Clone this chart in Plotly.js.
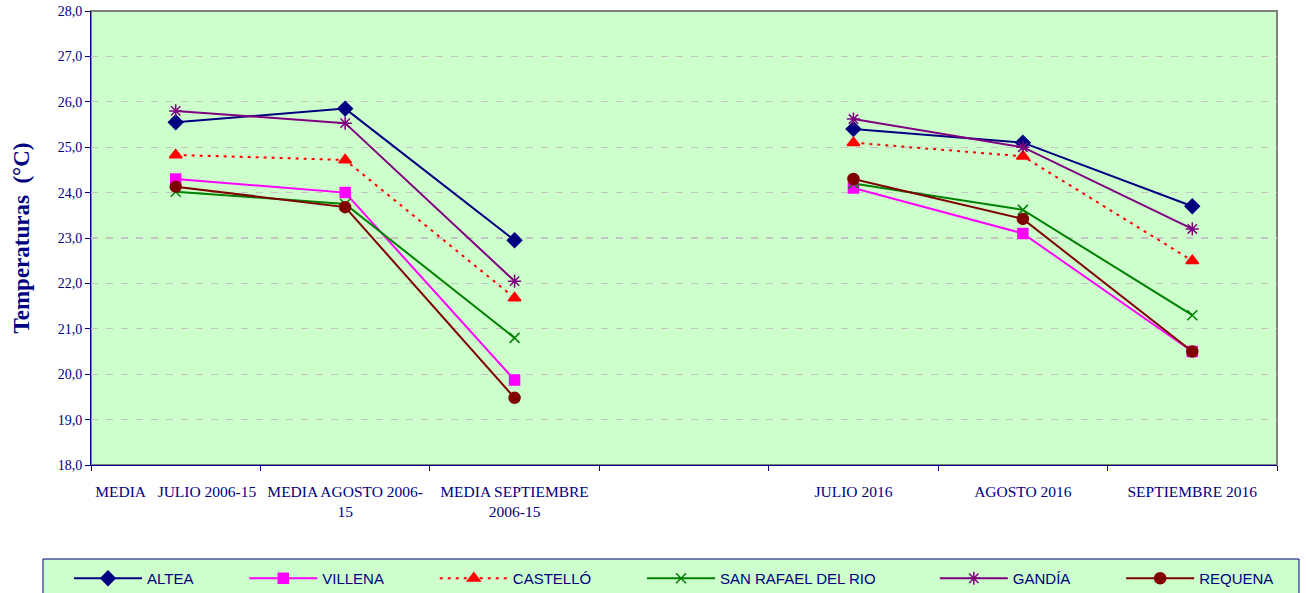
<!DOCTYPE html>
<html><head><meta charset="utf-8">
<script src="https://cdn.plot.ly/plotly-3.0.1.min.js"></script>
<style>html,body{margin:0;padding:0;background:#fff}#chart{width:1306px;height:593px}</style>
</head><body><div id="chart"></div>
<script>
const categories = ["MEDIA\u00a0\u00a0\u00a0JULIO 2006-15", "MEDIA AGOSTO 2006-<br>15", "MEDIA SEPTIEMBRE<br>2006-15", " ", "JULIO 2016", "AGOSTO 2016", "SEPTIEMBRE 2016"];
const seriesNames = ["ALTEA", "VILLENA", "CASTELLÓ", "SAN RAFAEL DEL RIO", "GANDÍA", "REQUENA"];
const altea     = [25.55, 25.85, 22.95, null, 25.4, 25.1, 23.7];
const villena   = [24.3, 24.0, 19.87, null, 24.1, 23.1, 20.5];
const castello  = [24.83, 24.72, 21.68, null, 25.1, 24.8, 22.5];
const sanRafael = [24.02, 23.75, 20.8, null, 24.2, 23.62, 21.3];
const gandia    = [25.8, 25.53, 22.05, null, 25.62, 25.0, 23.2];
const requena   = [24.13, 23.68, 19.48, null, 24.3, 23.42, 20.5];

const navy = "#000080";
// legend spacing (trailing non-breaking spaces to widen each legend entry)
const legendPad = [11, 11, 11, 13, 11, 0];
function tr(i, y, color, symbol, dash, msize) {
  return {type: "scatter", mode: "lines+markers", name: seriesNames[i] + "\u00a0".repeat(legendPad[i]),
    x: categories, y: y, connectgaps: false,
    line: {color: color, width: 2, dash: dash || "solid"},
    marker: {symbol: symbol, size: msize || 10, color: color, line: {color: color, width: 1.5}}};
}
const data = [
  tr(0, altea, navy, "diamond", null, 11),
  tr(1, villena, "#ff00ff", "square", null, 10),
  tr(2, castello, "#ff0000", "triangle-up", "3px,5px", 11),
  tr(3, sanRafael, "#008000", "x-thin", null, 10),
  tr(4, gandia, "#800080", "asterisk", null, 11),
  tr(5, requena, "#800000", "circle", null, 11)
];
const L = 91, R = 1277, T = 11, B = 465;
const W = R - L, H = B - T;
const px = v => (v - L) / W, py = v => (B - v) / H;
const layout = {
  width: 1306, height: 593,
  margin: {l: L, r: 1306 - R, t: T, b: 593 - B, autoexpand: false},
  paper_bgcolor: "#ffffff", plot_bgcolor: "#ccffcc",
  separators: ",.",
  showlegend: true,
  font: {family: "Liberation Serif, serif", color: navy},
  xaxis: {type: "category", categoryorder: "array", categoryarray: categories,
    range: [-0.5, 6.5], autorange: false,
    tickson: "boundaries", ticks: "outside", ticklen: 5, tickcolor: navy, tickwidth: 1,
    showline: true, linecolor: navy, linewidth: 1, showgrid: false, zeroline: false,
    tickangle: 0, tickfont: {family: "Liberation Serif, serif", size: 15.5, color: navy},
    ticklabelstandoff: 12, automargin: false, fixedrange: true},
  yaxis: {range: [18, 28], dtick: 1, tickformat: ".1f", ticks: "outside", ticklen: 5,
    tickcolor: navy, showline: true, linecolor: navy, linewidth: 1,
    showgrid: true, gridcolor: "#c4c4c4", griddash: "7px,8px", gridwidth: 1.3, zeroline: false,
    tickfont: {family: "Liberation Serif, serif", size: 14, color: navy},
    title: {text: "Temperaturas  (°C)", font: {family: "Liberation Serif, serif", size: 23, color: navy, weight: "bold"}, standoff: 21},
    automargin: false, fixedrange: true},
  legend: {orientation: "h", x: px(69), xanchor: "left", y: py(562), yanchor: "top",
    bgcolor: "rgba(0,0,0,0)", borderwidth: 0, itemwidth: 68,
    font: {family: "Liberation Sans, Arial, sans-serif", size: 15, color: navy},
    traceorder: "normal", itemclick: false},
  shapes: [
    {type: "rect", xref: "paper", yref: "paper", x0: 0, x1: 1, y0: 0, y1: 1, line: {color: "#808080", width: 2}, layer: "below"},
    {type: "rect", xref: "paper", yref: "paper", x0: px(43), x1: px(1299), y0: py(559), y1: py(620), line: {color: navy, width: 1}, fillcolor: "#ccffcc", layer: "below"}
  ]
};
Plotly.newPlot("chart", data, layout, {displayModeBar: false, staticPlot: true});
</script></body></html>
